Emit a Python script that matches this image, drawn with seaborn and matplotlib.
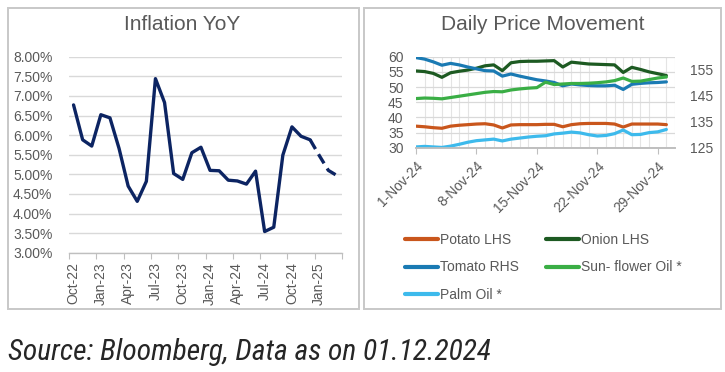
import matplotlib
matplotlib.use("Agg")
import matplotlib.pyplot as plt
from matplotlib import font_manager
from matplotlib.patches import Rectangle
from matplotlib.ticker import FixedLocator, NullFormatter
import seaborn as sns
import pandas as pd
import numpy as np

# ---------------- data ----------------
months = ["Oct-22", "Nov-22", "Dec-22", "Jan-23", "Feb-23", "Mar-23", "Apr-23", "May-23",
          "Jun-23", "Jul-23", "Aug-23", "Sep-23", "Oct-23", "Nov-23", "Dec-23", "Jan-24",
          "Feb-24", "Mar-24", "Apr-24", "May-24", "Jun-24", "Jul-24", "Aug-24", "Sep-24",
          "Oct-24", "Nov-24", "Dec-24", "Jan-25", "Feb-25", "Mar-25"]
cpi = [6.77, 5.88, 5.72, 6.52, 6.44, 5.66, 4.70, 4.31, 4.82, 7.44, 6.83, 5.02, 4.87, 5.55,
       5.69, 5.10, 5.09, 4.85, 4.83, 4.75, 5.08, 3.54, 3.65, 5.49, 6.21, 5.97, 5.88, 5.48,
       5.10, 4.96]
last_actual = "Dec-24"

days = list(range(1, 31))
potato = [37.1, 36.9, 36.6, 36.4, 37.1, 37.4, 37.6, 37.8, 37.9, 37.5, 36.5, 37.5, 37.6, 37.6,
          37.6, 37.7, 37.7, 36.9, 37.6, 37.9, 38.0, 38.0, 38.0, 37.8, 36.8, 37.8, 37.8, 37.8,
          37.8, 37.6]
onion = [55.3, 55.1, 54.5, 53.2, 54.7, 55.2, 55.6, 56.2, 57.0, 57.3, 55.4, 58.0, 58.4, 58.5,
         58.5, 58.6, 58.7, 56.6, 58.2, 57.9, 57.6, 57.5, 57.4, 57.3, 54.8, 56.5, 55.8, 55.0,
         54.4, 53.8]
tomato = [59.7, 59.2, 58.3, 57.2, 57.8, 57.3, 56.6, 56.0, 55.4, 55.3, 53.6, 54.3, 53.6, 53.0,
          52.4, 52.0, 51.5, 50.4, 51.0, 50.7, 50.5, 50.4, 50.4, 50.6, 49.2, 50.9, 51.2, 51.4,
          51.5, 51.7]
sunflower = [143.9, 144.1, 144.0, 143.8, 144.3, 144.8, 145.3, 145.8, 146.3, 146.6, 146.5,
             147.2, 147.6, 147.9, 148.1, 150.2, 149.3, 149.5, 149.7, 149.7, 149.8, 150.0,
             150.3, 150.8, 151.8, 150.5, 150.6, 151.2, 151.8, 152.2]
palm = [125.3, 125.5, 125.3, 125.1, 125.6, 126.3, 127.1, 127.7, 128.0, 128.3, 127.6, 128.3,
        128.7, 129.1, 129.4, 129.6, 130.3, 130.6, 131.0, 130.7, 130.0, 129.5, 129.7, 130.4,
        131.8, 130.0, 130.1, 130.8, 131.1, 132.0]
tick_days = [1, 8, 15, 22, 29]
tick_labels_days = [f"{d}-Nov-24" for d in tick_days]

names = ["Potato LHS", "Onion LHS", "Tomato RHS", "Sun- flower Oil *", "Palm Oil *"]
colors = {"Potato LHS": "#C9561C", "Onion LHS": "#1D5A22", "Tomato RHS": "#1A7AB3",
          "Sun- flower Oil *": "#3AAE45", "Palm Oil *": "#3DBAEC"}
source_text = "Source: Bloomberg, Data as on 01.12.2024"

# ---------------- style ----------------
sns.set_theme(style="white")
plt.rcParams["font.family"] = ["Liberation Sans", "DejaVu Sans"]
GRAY_TXT = "#595959"
GRID = "#D9D9D9"

fig = plt.figure(figsize=(7.25, 3.72), dpi=100)
W, H = 725, 372

def fr(x0, y0, x1, y1):
    return [x0 / W, 1 - y1 / H, (x1 - x0) / W, (y1 - y0) / H]

# panel borders
for (x0, y0, x1, y1) in [(8, 7.5, 359, 308.5), (363.5, 7.5, 720.5, 308.5)]:
    fig.patches.append(Rectangle((x0 / W, 1 - y1 / H), (x1 - x0) / W, (y1 - y0) / H,
                                 transform=fig.transFigure, fill=False,
                                 edgecolor="#C8C8C8", linewidth=1.4))

# ---------------- left chart ----------------
axL = fig.add_axes(fr(69, 56.7, 342, 252.7))
dfc = pd.DataFrame({"month": months, "cpi": cpi})
dfc["x"] = np.arange(len(months)) + 0.5
cut = months.index(last_actual)
solid = dfc.iloc[:cut + 1]
dashed = dfc.iloc[cut:]
sns.lineplot(data=solid, x="x", y="cpi", ax=axL, color="#0C2462", linewidth=2.4,
             solid_capstyle="round", solid_joinstyle="round")
sns.lineplot(data=dashed, x="x", y="cpi", ax=axL, color="#0C2462", linewidth=2.4,
             linestyle=(0, (3.2, 1.8)), dash_capstyle="butt")
axL.set_xlim(0, len(months))
axL.set_ylim(3.0, 8.0)
yt = np.arange(3.0, 8.01, 0.5)
axL.set_yticks(yt)
axL.set_yticklabels([f"{v:.2f}%" for v in yt])
axL.yaxis.grid(True, color=GRID, linewidth=1.0)
axL.xaxis.grid(False)
axL.xaxis.set_major_locator(FixedLocator(list(range(0, len(months) + 1, 3))))
axL.xaxis.set_major_formatter(NullFormatter())
lab_idx = list(range(0, len(months), 3))
axL.xaxis.set_minor_locator(FixedLocator([i + 0.5 for i in lab_idx]))
axL.set_xticklabels([months[i] for i in lab_idx], minor=True, rotation=90)
axL.tick_params(axis="x", which="major", length=4, width=0.8, color="#BFBFBF", direction="out", bottom=True)
axL.tick_params(axis="x", which="minor", length=0, pad=7, labelsize=10, labelcolor=GRAY_TXT)
axL.tick_params(axis="y", length=0, pad=12, labelsize=10, labelcolor=GRAY_TXT)
for s in ["top", "right", "left"]:
    axL.spines[s].set_visible(False)
axL.spines["bottom"].set_color("#BFBFBF")
axL.spines["bottom"].set_linewidth(1.0)
axL.set_xlabel("")
axL.set_ylabel("")
axL.set_facecolor("none")

# ---------------- right chart ----------------
axR = fig.add_axes(fr(416, 56.7, 675, 147.7))
axR2 = axR.twinx()
dfp = pd.DataFrame({"day": days, "Potato LHS": potato, "Onion LHS": onion, "Tomato RHS": tomato,
                    "Sun- flower Oil *": sunflower, "Palm Oil *": palm})
lhs = dfp.melt(id_vars="day", value_vars=["Potato LHS", "Onion LHS", "Tomato RHS"],
               var_name="series", value_name="price")
rhs = dfp.melt(id_vars="day", value_vars=["Sun- flower Oil *", "Palm Oil *"],
               var_name="series", value_name="price")
sns.lineplot(data=lhs, x="day", y="price", hue="series", palette=colors, ax=axR,
             linewidth=2.3, legend=False, solid_capstyle="round")
sns.lineplot(data=rhs, x="day", y="price", hue="series", palette=colors, ax=axR2,
             linewidth=2.3, legend=False, solid_capstyle="round")
axR.set_xlim(1, 31)
axR.set_ylim(30, 60)
axR2.set_ylim(125, 160)
axR.set_yticks(np.arange(30, 61, 5))
axR2.set_yticks([125, 135, 145, 155])
axR.set_xticks(tick_days)
axR.set_xticklabels(tick_labels_days, rotation=45, ha="right", rotation_mode="anchor")
axR.xaxis.set_minor_locator(FixedLocator(list(range(1, 32))))
axR.grid(False)
axR2.grid(False)
axR.yaxis.grid(True, color=GRID, linewidth=0.9)
axR.xaxis.grid(True, which="minor", color="#E4E4E4", linewidth=0.8)
axR.set_axisbelow(True)
axR.tick_params(axis="x", which="major", length=4, width=0.8, color="#BFBFBF", pad=4,
                labelsize=10, labelcolor=GRAY_TXT, bottom=True)
axR.tick_params(axis="x", which="minor", length=0)
axR.tick_params(axis="y", length=0, pad=9, labelsize=10, labelcolor=GRAY_TXT)
axR2.tick_params(axis="y", length=0, pad=11, labelsize=10, labelcolor=GRAY_TXT)
for a in (axR, axR2):
    for s in ["top", "right", "left"]:
        a.spines[s].set_visible(False)
    a.spines["bottom"].set_color("#BFBFBF")
    a.set_xlabel("")
    a.set_ylabel("")
axR2.patch.set_visible(False)

# legend (column-wise fill gives row order Potato/Onion, Tomato/Sunflower, Palm)
order = ["Potato LHS", "Tomato RHS", "Palm Oil *", "Onion LHS", "Sun- flower Oil *"]
handles = [plt.Line2D([], [], color=colors[n], linewidth=3.0, solid_capstyle="round") for n in order]
fig.legend(handles, order, loc="upper left", bbox_to_anchor=(405 / W, 1 - 233 / H), ncol=2,
           frameon=False, fontsize=10, handlelength=2.4, handletextpad=0.15,
           columnspacing=1.9, labelspacing=0.97, labelcolor=GRAY_TXT, borderaxespad=0,
           borderpad=0)

# ---------------- titles & source ----------------
fig.text(182 / W, 1 - 24 / H, "Inflation YoY", ha="center", va="center", fontsize=15,
         color=GRAY_TXT)
fig.text(543 / W, 1 - 24 / H, "Daily Price Movement", ha="center", va="center", fontsize=15,
         color=GRAY_TXT)

# choose a condensed/narrow italic face if one is installed
pref = ["Liberation Sans Narrow", "Roboto Condensed", "Open Sans Condensed",
        "Noto Sans Condensed", "DejaVu Sans Condensed", "Fira Sans Condensed",
        "Ubuntu Condensed", "Noto Sans Display Condensed"]
entries = font_manager.fontManager.ttflist
avail = {f.name for f in entries}
src_family = None
for p in pref:
    if p in avail:
        src_family = p
        break
stretch_kw = {}
if src_family is None:
    cond = [f for f in entries
            if str(f.stretch) in ("condensed", "semi-condensed", "extra-condensed", "75", "87", "62")
            and f.name in ("Noto Sans", "Open Sans", "Roboto", "DejaVu Sans", "Inter")]
    if cond:
        src_family = cond[0].name
        stretch_kw = {"fontstretch": str(cond[0].stretch)}
    else:
        src_family = "Liberation Sans"
src = fig.text(8 / W, 1 - 360 / H, source_text, ha="left", va="baseline", fontsize=22,
               style="italic", color="#262626", family=[src_family, "DejaVu Sans"], **stretch_kw)
renderer = fig.canvas.get_renderer()
wpx = src.get_window_extent(renderer).width
target = 482.0
src.set_fontsize(min(24.0, 22.0 * target / wpx))

fig.savefig("out.png", dpi=100, facecolor="white")
